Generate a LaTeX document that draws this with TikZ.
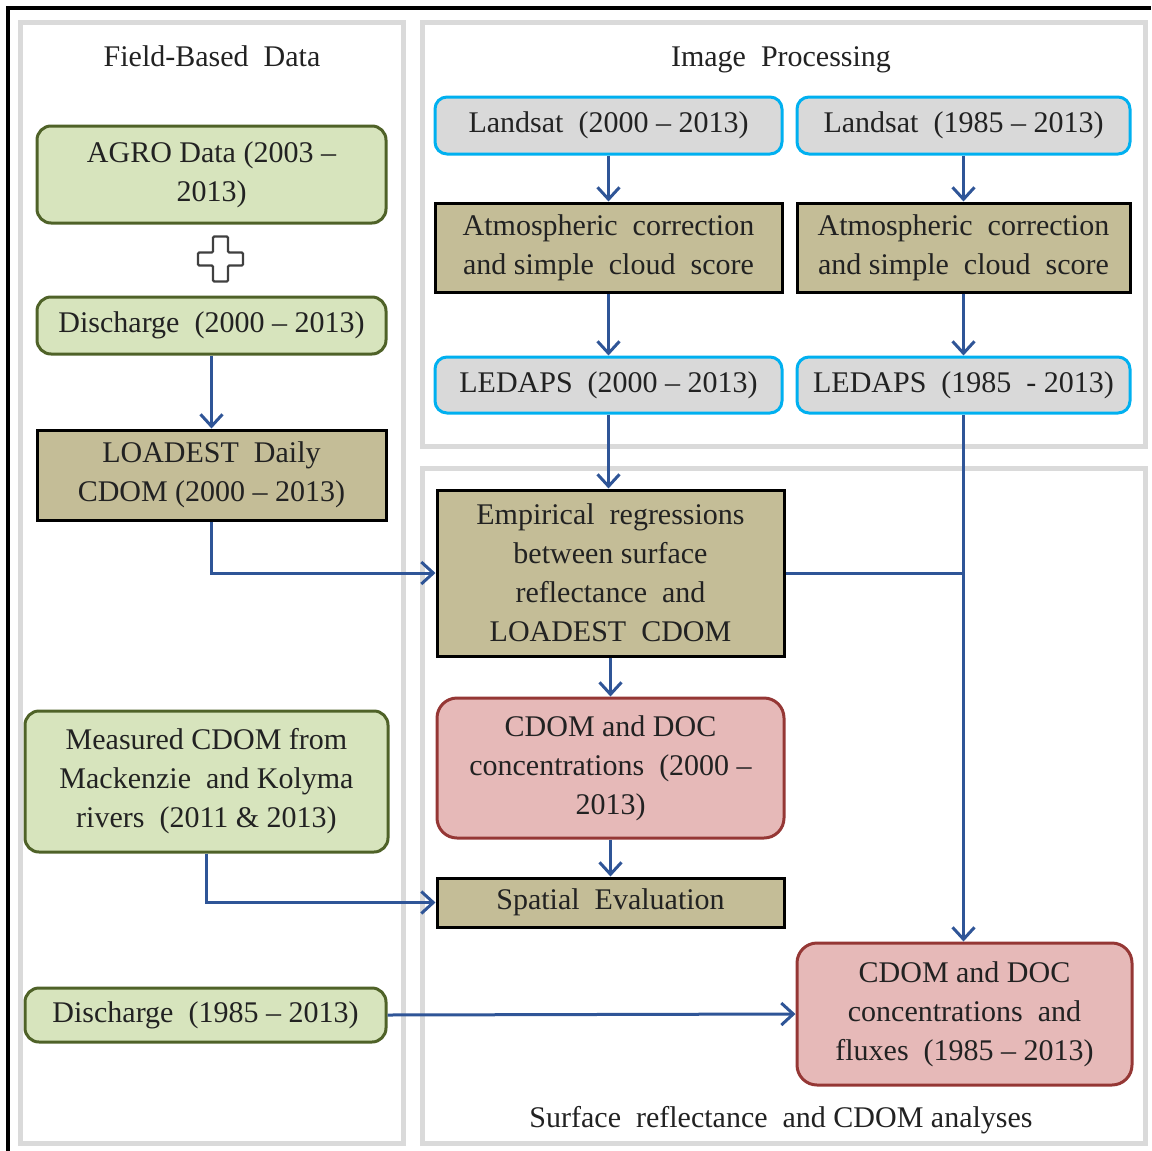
\documentclass[tikz,border=0pt]{standalone}
\usepackage{fontspec}
\setmainfont{LiberationSerif}[Extension=.ttf, UprightFont=*-Regular, BoldFont=*-Bold, Ligatures=TeX]
\usetikzlibrary{arrows.meta,positioning}

\definecolor{grnfill}{HTML}{D7E4BD}
\definecolor{grnline}{HTML}{4F6228}
\definecolor{tanfill}{HTML}{C4BD97}
\definecolor{gryfill}{HTML}{D9D9D9}
\definecolor{cyanline}{HTML}{00B0F0}
\definecolor{redfill}{HTML}{E6B9B8}
\definecolor{redline}{HTML}{953735}
\definecolor{flowblue}{HTML}{2F5597}
\definecolor{panelgray}{HTML}{DADADA}
\definecolor{txt}{HTML}{222222}

\begin{document}
\begin{tikzpicture}[x=0.5pt,y=-0.5pt,
    every node/.style={font=\fontsize{15}{19.5}\selectfont, text=txt, align=center, inner sep=0pt},
    box/.style={draw, line width=1.5pt, minimum width=173.5pt},
    fieldbox/.style={box, rounded corners=7pt, fill=grnfill, draw=grnline, minimum width=174.5pt},
    procbox/.style={box, fill=tanfill, draw=black},
    satbox/.style={box, rounded corners=6pt, fill=gryfill, draw=cyanline, minimum height=28.5pt},
    resbox/.style={box, rounded corners=10pt, fill=redfill, draw=redline},
    panel/.style={draw=panelgray, line width=2.5pt},
    title/.style={anchor=base},
    flow/.style={draw=flowblue, line width=1.5pt, -{Straight Barb[length=6pt,width=11pt,line width=1.5pt]}},
    link/.style={draw=flowblue, line width=1.5pt},
    ]
    \useasboundingbox (0,0) rectangle (1151,1151);

    % panels and frame
    \draw[line width=2pt] (8,1151) |- (1151,8);
    \draw[panel] (20,22) rectangle (403,1143);
    \draw[panel] (422,22) rectangle (1145,446);
    \draw[panel] (422,468) rectangle (1145,1143);

    \node [title](tfield) at (212,66) {Field-Based\ \ Data};
    \node [title](timage) at (781,66) {Image\ \ Processing};
    \node [title](tsurf) at (781,1127) {Surface\ \ reflectance\ \ and CDOM analyses};

    % field-based data
    \node [fieldbox, minimum height=48.5pt](agro) at (211.5,174.5) {AGRO Data (2003 --\\2013)};
    \node [fieldbox, minimum height=28.5pt](dis1) at (211.5,325.5) {Discharge\ \ (2000 -- 2013)};
    \node [procbox, minimum width=174.5pt, minimum height=45pt](loadest) at (211.5,475) {LOADEST\ \ Daily\\CDOM (2000 -- 2013)};
    \node [fieldbox, minimum width=181.5pt, minimum height=70.5pt](meas) at (206.5,781.5) {Measured CDOM from\\Mackenzie\ \ and Kolyma\\rivers\ \ (2011 \& 2013)};
    \node [fieldbox, minimum width=180.5pt, minimum height=27pt](dis2) at (205.5,1015) {Discharge\ \ (1985 -- 2013)};

    \draw[line width=1.1pt, draw=black!75, fill=white, rounded corners=0.6pt]
        (213,236.5) -- (228,236.5) -- (228,252.5) -- (243,252.5) -- (243,265.5) -- (228,265.5)
        -- (228,281.5) -- (213,281.5) -- (213,265.5) -- (198,265.5) -- (198,252.5) -- (213,252.5) -- cycle;

    % image processing
    \node [satbox](ls1) at (608.5,125.5) {Landsat\ \ (2000 -- 2013)};
    \node [satbox, minimum width=166.5pt](ls2) at (963.5,125.5) {Landsat\ \ (1985 -- 2013)};
    \node [procbox, minimum height=44.5pt](atm1) at (608.5,247.5) {Atmospheric\ \ correction\\and simple\ \ cloud\ \ score};
    \node [procbox, minimum width=166.5pt, minimum height=44.5pt](atm2) at (963.5,247.5) {Atmospheric\ \ correction\\and simple\ \ cloud\ \ score};
    \node [satbox, minimum height=28pt](led1) at (608.5,385) {LEDAPS\ \ (2000 -- 2013)};
    \node [satbox, minimum width=166.5pt, minimum height=28pt](led2) at (963.5,385) {LEDAPS\ \ (1985\ \ -\ 2013)};

    % analyses
    \node [procbox, minimum height=83pt](emp) at (610.5,573) {Empirical\ \ regressions\\between\ surface\\reflectance\ \ and\\LOADEST\ \ CDOM};
    \node [resbox, minimum height=70pt](conc) at (610.5,768) {CDOM and DOC\\concentrations\ \ (2000 --\\2013)};
    \node [procbox, minimum height=24.5pt](spat) at (610.5,902.5) {Spatial\ \ Evaluation};
    \node [resbox, minimum width=167.5pt, minimum height=71pt](flux) at (964.5,1014) {CDOM and DOC\\concentrations\ \ and\\fluxes\ \ (1985 -- 2013)};

    \path[every edge/.style={flow}]
        (ls1) edge (atm1)
        (atm1) edge (led1)
        (ls2) edge (atm2)
        (atm2) edge (led2)
        (dis1) edge (loadest)
        (emp) edge (conc)
        (conc) edge (spat)
        (dis2.east) edge (flux.west)
        ;
    \draw[flow] (led1.south) -- (led1.south |- emp.north);
    \draw[flow] (led2.south) -- (led2.south |- flux.north);
    \draw[link] (emp.east) -- (led2.south |- emp.east);
    \draw[flow] (loadest.south) |- (emp.west);
    \draw[flow] (meas.south) |- (spat.west);
\end{tikzpicture}
\end{document}
